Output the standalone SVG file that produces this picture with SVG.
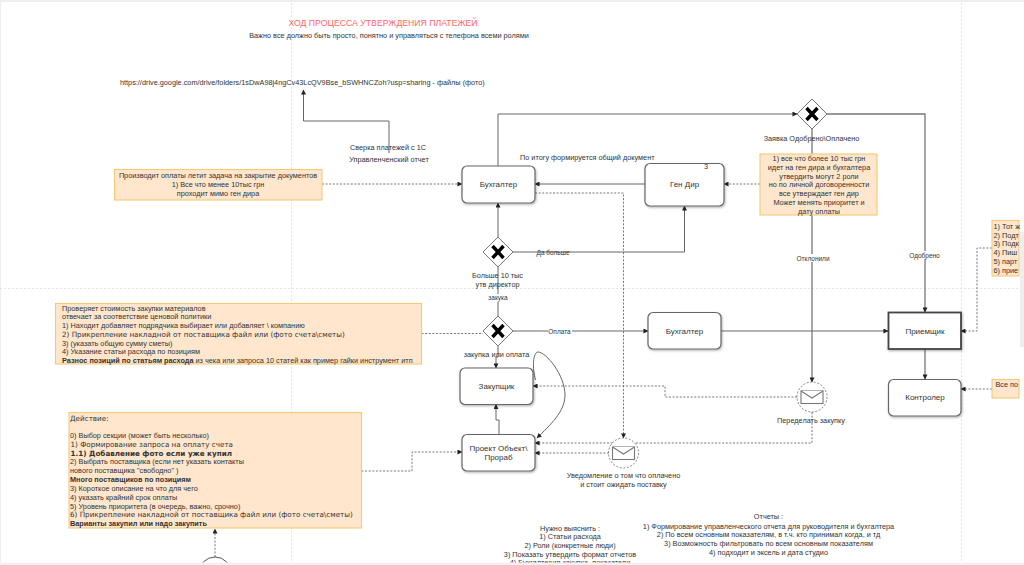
<svg xmlns="http://www.w3.org/2000/svg" width="1024" height="565" viewBox="0 0 1024 565">
<style>
text{font-family:"Liberation Sans",Arial,sans-serif;font-size:7.3px;fill:#333}
.m{text-anchor:middle}
.v{font-family:"DejaVu Sans",sans-serif;font-size:7.2px}
.b{font-weight:bold}
.t{font-size:8px}
.e{font-size:6.5px}
.note{fill:#ffe6cc;stroke:#f5c976;stroke-width:1.1}
.task{fill:#fff;stroke:#666;stroke-width:1.2;filter:url(#sh)}
.gw{fill:#fff;stroke:#666;stroke-width:.9}
.x{stroke:#000;stroke-width:3.4;fill:none}
.ln{fill:none;stroke:#666;stroke-width:1}
.g{stroke:#777;stroke-width:1.3}
.d{fill:none;stroke:#666;stroke-width:.9;stroke-dasharray:2 1.6}
.page{fill:none;stroke:#ddd;stroke-width:.8;stroke-dasharray:2 2}
.env{fill:#fff;stroke:#777;stroke-width:.9;stroke-dasharray:2 1.6}
.mail{fill:#fff;stroke:#777;stroke-width:1.1}
</style>
<defs>
<filter id="sh" x="-10%" y="-10%" width="125%" height="130%"><feDropShadow dx="0.8" dy="1.2" stdDeviation="0.8" flood-color="#000" flood-opacity="0.3"/></filter>
<marker id="a" viewBox="0 0 6 6" refX="5.5" refY="3" markerWidth="5" markerHeight="5" markerUnits="userSpaceOnUse" orient="auto"><path d="M0 0L6 3L0 6Z" fill="#222"/></marker>
</defs>
<rect width="1024" height="565" fill="#fff"/>
<rect width="1024" height="2" fill="#eee"/>
<rect width="1" height="565" fill="#eee"/>
<rect x="1020" y="232" width="4" height="115" fill="#eee"/>
<g id="page-breaks">
<path class="page" d="M291.500 3V565M961.500 3V565M0 288.500H1020"/>
</g>
<g id="connectors">
<path class="ln" d="M389 153V121H303.500V90" marker-end="url(#a)"/>
<path class="ln" d="M498 166V114H797" marker-end="url(#a)"/>
<path class="ln g" d="M827 114H925V312" marker-end="url(#a)"/>
<path class="ln g" d="M812 129V382" marker-end="url(#a)"/>
<path class="ln" d="M645 184H535" marker-end="url(#a)"/>
<path class="ln" d="M498 237V203" marker-end="url(#a)"/>
<path class="ln" d="M513 252H684.500V206" marker-end="url(#a)"/>
<path class="ln" d="M498 267V316"/>
<path class="ln" d="M513 331H648" marker-end="url(#a)"/>
<path class="ln" d="M498 346V357H496V368" marker-end="url(#a)"/>
<path class="ln" d="M721 331H888" marker-end="url(#a)"/>
<path class="ln g" d="M925 349V379" marker-end="url(#a)"/>
<path class="ln" d="M499 434V420H496V404.500" marker-end="url(#a)"/>
<path class="ln" d="M535.500 380C532 368 533 352 538 352C546 352 565 375 565 395C565 412 550 425 537 438" marker-end="url(#a)"/>
<path class="d" d="M322 184H462" marker-end="url(#a)"/>
<path class="d" d="M760 184H724" marker-end="url(#a)"/>
<path class="d" d="M535 193H623.500V438" marker-end="url(#a)"/>
<path class="d" d="M421.500 333.500H483"/>
<path class="d" d="M992 248H977V331H961" marker-end="url(#a)"/>
<path class="d" d="M992 389H961" marker-end="url(#a)"/>
<path class="d" d="M797 397H665V386H533" marker-end="url(#a)"/>
<path class="d" d="M812 412V443H535" marker-end="url(#a)"/>
<path class="d" d="M609 453H535" marker-end="url(#a)"/>
<path class="d" d="M361.500 471H412V452H462" marker-end="url(#a)"/>
<path class="d" d="M215 557V529" marker-end="url(#a)"/>
</g>
<g id="title">
<text class="m" x="383" y="26" style="font-size:8.7px;fill:#f66">ХОД ПРОЦЕССА УТВЕРЖДЕНИЯ ПЛАТЕЖЕЙ</text>
<text class="m" x="389" y="38">Важно все должно быть просто, понятно и управляться с телефона всеми ролями</text>
<text x="120" y="85">https://drive.google.com/drive/folders/1sDwA98j4ngCv43LcQV9Bse_bSWHNCZoh?usp=sharing - файлы (фото)</text>
<text class="m" x="388" y="150">Сверка платежей с 1С</text>
<text class="m" x="389" y="162">Управленченский отчет</text>
<text x="520" y="160">По итогу формируется общий документ</text>
<text class="m" x="811.500" y="141">Заявка Одобрено\Оплачено</text>
</g>
<g id="note-pay">
<rect class="note" x="114.500" y="169.500" width="207.500" height="30.500"/>
<text class="m" x="218" y="178">Производит оплаты летит задача на закрытие документов</text>
<text class="m" x="218" y="187">1) Все что менее 10тыс грн</text>
<text class="m" x="218" y="196">проходит мимо ген дира</text>
</g>
<g id="note-director">
<rect class="note" x="760" y="154" width="117" height="61"/>
<text class="m" x="819" y="161">1) все что более 10 тыс грн</text>
<text class="m" x="819" y="170">идет на ген дира и бухгалтера</text>
<text class="m" x="819" y="178.500">утвердить могут 2 роли</text>
<text class="m" x="819" y="187">но по личной договоренности</text>
<text class="m" x="819" y="196">все утверждает ген дир</text>
<text class="m" x="819" y="204.500">Может менять приоритет и</text>
<text class="m" x="819" y="213.500">дату оплаты</text>
</g>
<g id="note-buyer">
<rect class="note" x="55.500" y="303.500" width="366" height="60.500"/>
<text x="62" y="310.500">Проверяет стоимость закупки материалов</text>
<text x="62" y="319">отвечает за соответствие ценовой политики</text>
<text x="62" y="328">1) Находит добавляет подрядчика выбирает или добавляет \ компанию</text>
<text class="v" x="62" y="336.500">2) Прикрепление накладной от поставщика файл или (фото счета\сметы)</text>
<text x="62" y="345.500">3) (указать общую сумму сметы)</text>
<text x="62" y="354">4) Указание статьи расхода по позициям</text>
<text x="62" y="363"><tspan class="b">Разнос позиций по статьям расхода</tspan> из чека или запроса 10 статей  как пример гайки инструмент итп</text>
</g>
<g id="note-action">
<rect class="note" x="69" y="412.500" width="292.500" height="115.500"/>
<text class="v" x="70" y="421">Действие:</text>
<text x="70" y="438">0) Выбор секции (может быть несколько)</text>
<text class="v" x="70.500" y="447">1) Формирование запроса на оплату счета</text>
<text class="v b" x="70.500" y="455.500">1.1) Добавление фото если уже купил</text>
<text x="70" y="464">2) Выбрать поставщика (если нет указать контакты</text>
<text x="70" y="473">нового поставщика "свободно" )</text>
<text class="b" x="70" y="482">Много поставщиков по позициям</text>
<text x="70" y="491">3) Короткое описание на что для чего</text>
<text x="70" y="499.500">4) указать крайний срок оплаты</text>
<text x="70" y="508.500">5) Уровень приоритета (в очередь, важно, срочно)</text>
<text class="v" x="70" y="517">6) Прикрепление накладной от поставщика файл или (фото счета\сметы)</text>
<text class="b" x="70" y="526">Варианты закупил или надо закупить</text>
</g>
<g id="note-receiver">
<rect class="note" x="992" y="220.500" width="27" height="55.500"/>
<text x="993.500" y="228.500">1) Тот ж</text>
<text x="993.500" y="237.500">2) Подт</text>
<text x="993.500" y="246">3) Подк</text>
<text x="993.500" y="255">4) Пиш</text>
<text x="993.500" y="263.500">5) парт</text>
<text x="993.500" y="272.500">6) прие</text>
</g>
<g id="note-control">
<rect class="note" x="992" y="379.500" width="27" height="18.500"/>
<text x="995.500" y="386.500">Все по</text>
</g>
<g id="task-accountant-1"><rect class="task" x="462" y="166" width="73" height="37" rx="5"/><text class="m t" x="498.500" y="187">Бухгалтер</text></g>
<g id="task-gendir"><rect class="task" x="645" y="163.500" width="79" height="42.500" rx="5"/><text class="m t" x="684.500" y="187">Ген Дир</text><text x="704" y="168.500">3</text></g>
<g id="task-accountant-2"><rect class="task" x="648" y="312.500" width="73" height="36.500" rx="5"/><text class="m t" x="684.500" y="333.500">Бухгалтер</text></g>
<g id="task-buyer"><rect class="task" x="460" y="368" width="73" height="36.500" rx="5"/><text class="m t" x="496.500" y="389">Закупщик</text></g>
<g id="task-project"><rect class="task" x="462" y="434.500" width="73" height="36.500" rx="5"/><text class="m t" x="498.500" y="451">Проект Объект\</text><text class="m t" x="498.500" y="460">Прораб</text></g>
<g id="task-receiver"><rect x="888.500" y="312.500" width="72.500" height="36.500" fill="#fff" stroke="#444" stroke-width="1.800" filter="url(#sh)"/><text class="m t" x="925" y="333.500">Приемщик</text></g>
<g id="task-controller"><rect class="task" x="888.500" y="379.500" width="72.500" height="36.500" rx="5"/><text class="m t" x="925" y="400">Контролер</text></g>
<g id="gateway-approved"><path class="gw" d="M812 99L827 114L812 129L797 114Z"/><path class="x" d="M806.500 108L817.500 120M817.500 108L806.500 120"/></g>
<g id="gateway-amount"><path class="gw" d="M498 237L513 252L498 267L483 252Z"/><path class="x" d="M492.500 246L503.500 258M503.500 246L492.500 258"/><text class="m" x="497.500" y="277.500">Больше 10 тыс</text><text class="m" x="497.500" y="286.500">утв директор</text></g>
<g id="gateway-type"><path class="gw" d="M498 316L513 331L498 346L483 331Z"/><path class="x" d="M492.500 325L503.500 337M503.500 325L492.500 337"/><text class="m" x="496.500" y="356.500">закупка или оплата</text></g>
<g id="event-rework"><circle class="env" cx="812" cy="397" r="15"/><rect class="mail" x="801" y="391" width="22" height="12.500"/><path class="mail" d="M801 391L812 398L823 391"/><text class="m" x="811" y="423">Переделать закупку</text></g>
<g id="event-notify"><circle class="env" cx="623.500" cy="453" r="15"/><rect class="mail" x="612.500" y="447" width="22" height="12.500"/><path class="mail" d="M612.500 447L623.500 454L634.500 447"/><text class="m" x="623.500" y="478">Уведомление о том что оплачено</text><text class="m" x="623.500" y="487">и стоит ожидать поставку</text></g>
<g id="event-start"><circle cx="215" cy="573" r="16" fill="#fff" stroke="#444" stroke-width=".9"/></g>
<g id="edge-labels">
<text class="m e" x="553" y="255">Да больше</text>
<rect x="487" y="294" width="24" height="8" fill="#fff"/><text class="m e" x="498" y="300">закука</text>
<rect x="548" y="327" width="24" height="8" fill="#fff"/><text class="m e" x="559.500" y="334">Оплата</text>
<rect x="795" y="254" width="34" height="8" fill="#fff"/><text class="m e" x="813" y="260.500">Отклонили</text>
<rect x="908" y="251" width="34" height="8" fill="#fff"/><text class="m e" x="924.500" y="258">Одобрено</text>
</g>
<g id="notes-bottom">
<text class="m" x="570" y="530.500">Нужно выяснить :</text>
<text class="m" x="570" y="539">1) Статьи расхода</text>
<text class="m" x="570" y="548">2) Роли (конкретные люди)</text>
<text class="m" x="570" y="556.500">3) Показать утвердить формат отчетов</text>
<text class="m" x="570" y="565">4) Бухгалтерия закупка, показатели</text>
<text class="m" x="768.500" y="519">Отчеты :</text>
<text class="m" x="768.500" y="528.500">1) Формирование управленческого отчета для руководителя и бухгалтера</text>
<text class="m" x="768.500" y="537">2) По всем основным показателям, в т.ч. кто принимал когда, и тд</text>
<text class="m" x="768.500" y="546">3) Возможность фильтровать по всем основным показателям</text>
<text class="m" x="768.500" y="554.500">4) подходит и эксель и дата студио</text>
</g>
<rect y="562.500" width="1024" height="2.500" fill="#f2f2f2"/>
</svg>
